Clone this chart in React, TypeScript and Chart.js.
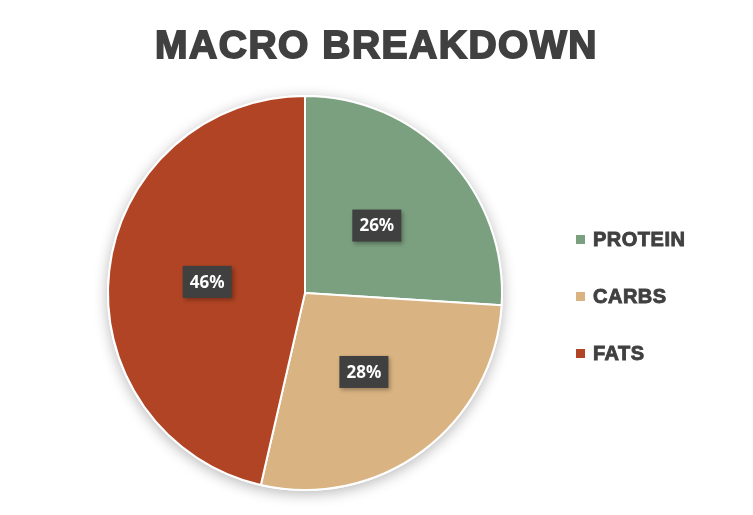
import { useRef, useEffect } from 'react'
import { Chart, ArcElement, PieController, Plugin } from 'chart.js'

Chart.register(ArcElement, PieController)

const CATEGORIES = ['PROTEIN', 'CARBS', 'FATS']
const VALUES = [26.0, 27.6, 46.4]
const COLORS = ['#7ba07f', '#d9b382', '#b04424']

const TEXT = '#404040'
const FONT = '"Liberation Sans", Arial, sans-serif'

// soft drop shadow behind the whole pie, painted before the slices
const pieShadow: Plugin<'pie'> = {
  id: 'pieShadow',
  beforeDatasetsDraw(chart) {
    const arc = chart.getDatasetMeta(0).data[0] as any
    if (!arc) return
    const { ctx } = chart
    ctx.save()
    ctx.shadowColor = 'rgba(0,0,0,0.28)'
    ctx.shadowBlur = 14
    ctx.shadowOffsetY = 3
    ctx.fillStyle = '#ffffff'
    ctx.beginPath()
    ctx.arc(arc.x, arc.y, arc.outerRadius + 1, 0, Math.PI * 2)
    ctx.fill()
    ctx.restore()
  },
}

// dark boxed percentage labels at the middle of each slice
const boxLabels: Plugin<'pie'> = {
  id: 'boxLabels',
  afterDatasetsDraw(chart) {
    const { ctx } = chart
    const meta = chart.getDatasetMeta(0)
    const total = VALUES.reduce((a, b) => a + b, 0)
    meta.data.forEach((el: any, i) => {
      const { x, y } = el.tooltipPosition()
      const txt = Math.round((VALUES[i] / total) * 100) + '%'
      const w = 49
      const h = 32
      ctx.save()
      ctx.shadowColor = 'rgba(0,0,0,0.3)'
      ctx.shadowBlur = 4
      ctx.shadowOffsetX = 2
      ctx.shadowOffsetY = 2
      ctx.fillStyle = TEXT
      ctx.fillRect(x - w / 2, y - h / 2, w, h)
      ctx.restore()
      ctx.save()
      ctx.fillStyle = '#ffffff'
      ctx.font = 'bold 17px "Noto Sans", "Open Sans", sans-serif'
      ctx.textAlign = 'center'
      ctx.textBaseline = 'middle'
      ctx.fillText(txt, x, y + 1)
      ctx.restore()
    })
  },
}

const LEGEND_TOPS = [229, 286, 343]

export default function App() {
  const canvasRef = useRef<HTMLCanvasElement>(null)
  const chartRef = useRef<Chart | null>(null)

  useEffect(() => {
    if (!canvasRef.current) return
    if (chartRef.current) chartRef.current.destroy()

    chartRef.current = new Chart(canvasRef.current, {
      type: 'pie',
      data: {
        labels: CATEGORIES,
        datasets: [{
          data: VALUES,
          backgroundColor: COLORS,
          borderColor: '#ffffff',
          borderWidth: 2,
        }],
      },
      options: {
        responsive: false,
        animation: false,
        layout: { padding: { left: 107, right: 250, top: 95, bottom: 24 } },
        plugins: {
          legend: { display: false },
          tooltip: { enabled: false },
        },
      },
      plugins: [pieShadow, boxLabels],
    })

    return () => { chartRef.current?.destroy() }
  }, [])

  return (
    <div style={{ position: 'absolute', left: 0, top: 0, width: 753, height: 515, background: '#ffffff' }}>
      <canvas ref={canvasRef} width={753} height={515} style={{ position: 'absolute', left: 0, top: 0 }} />
      <div
        style={{
          position: 'absolute',
          left: 0,
          width: 753,
          top: 25,
          textAlign: 'center',
          fontFamily: FONT,
          fontWeight: 700,
          fontSize: 39,
          lineHeight: '39px',
          letterSpacing: '1.5px',
          color: TEXT,
          WebkitTextStroke: `1.8px ${TEXT}`,
          whiteSpace: 'nowrap',
        }}
      >
        MACRO BREAKDOWN
      </div>

      {/* Legend */}
      {CATEGORIES.map((c, i) => (
        <div
          key={c}
          style={{ position: 'absolute', left: 576, top: LEGEND_TOPS[i], height: 20, display: 'flex', alignItems: 'flex-start' }}
        >
          <span
            style={{
              width: 9,
              height: 9,
              marginTop: 5.5,
              background: COLORS[i],
              display: 'inline-block',
              flexShrink: 0,
            }}
          />
          <span
            style={{
              marginLeft: 8,
              fontFamily: FONT,
              fontWeight: 700,
              fontSize: 20,
              lineHeight: '20px',
              letterSpacing: '0.5px',
              color: TEXT,
              WebkitTextStroke: `0.9px ${TEXT}`,
              whiteSpace: 'nowrap',
            }}
          >
            {c}
          </span>
        </div>
      ))}
    </div>
  )
}
